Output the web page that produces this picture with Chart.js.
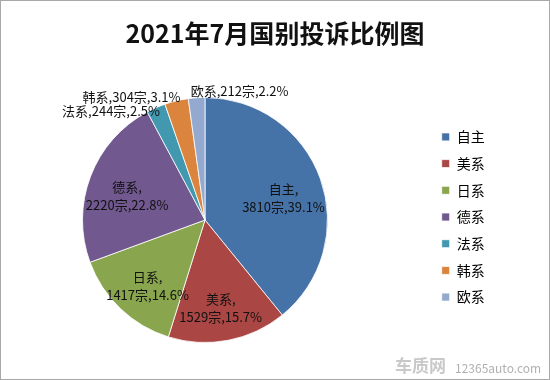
<!DOCTYPE html>
<html>
<head>
<meta charset="utf-8">
<script src="https://cdn.jsdelivr.net/npm/chart.js@4.4.1/dist/chart.umd.min.js"></script>
<style>
  html, body { margin: 0; padding: 0; background: #fff; }
  canvas { display: block; }
</style>
</head>
<body>
<canvas id="myCanvas" width="550" height="380" style="width:550px;height:380px"></canvas>
<script>
// 2021年7月 complaints by origin of the brand
var labels = ['自主', '美系', '日系', '德系', '法系', '韩系', '欧系'];
var counts = [3810, 1529, 1417, 2220, 244, 304, 212];
var colors = ['#4572A7', '#AA4643', '#89A54E', '#71588F', '#4198AF', '#DB843D', '#93A9CF'];

var FONT = '"Noto Sans CJK SC", "Noto Sans", sans-serif';
var total = counts.reduce(function(a, b){ return a + b; }, 0);

function pct(v){
  return (v / total * 100).toFixed(1) + '%';
}

// white page with the thin grey frame round it
var framePlugin = {
  id: 'frame',
  beforeDraw: function(chart){
    var ctx = chart.ctx;
    ctx.save();
    ctx.fillStyle = '#fff';
    ctx.fillRect(0, 0, chart.width, chart.height);
    ctx.strokeStyle = '#a8a8a8';
    ctx.lineWidth = 1;
    ctx.strokeRect(0.5, 0.5, chart.width - 1, chart.height - 1);
    ctx.restore();
  },
  afterDraw: function(chart){
    // watermark in the corner
    var ctx = chart.ctx;
    ctx.save();
    ctx.textBaseline = 'middle';
    ctx.textAlign = 'left';
    ctx.fillStyle = '#c9c9c9';
    ctx.font = 'bold 17px ' + FONT;
    ctx.fillText('车质网', 395, 366);
    ctx.fillStyle = '#b0b0b0';
    ctx.font = '12px ' + FONT;
    ctx.fillText('12365auto.com', 455, 368);
    ctx.restore();
  }
};

// pie sits left of centre, legend near the right edge
var placePlugin = {
  id: 'place',
  afterLayout: function(chart){
    var area = chart.chartArea;
    area.right = area.left + 410;
    area.width = area.right - area.left;
    var lg = chart.legend;
    var dx = 429 - lg.left;
    lg.left += dx; lg.right += dx;
    lg.top -= 3; lg.bottom -= 3;
  }
};

// "name,count宗,pct" labels, inside for the big slices and outside for the small ones
var sliceLabels = {
  id: 'sliceLabels',
  afterDatasetsDraw: function(chart){
    var ctx = chart.ctx;
    var meta = chart.getDatasetMeta(0);
    var outside = [];
    ctx.save();
    ctx.font = '13px ' + FONT;
    ctx.fillStyle = '#111';
    ctx.textBaseline = 'middle';
    meta.data.forEach(function(arc, i){
      var p = arc.getProps(['x', 'y', 'startAngle', 'endAngle', 'outerRadius'], true);
      var mid = (p.startAngle + p.endAngle) / 2;
      var share = counts[i] / total;
      if (share > 0.05) {
        var r = p.outerRadius * 0.68;
        var cx = p.x + Math.cos(mid) * r;
        var cy = p.y + Math.sin(mid) * r + 6;
        ctx.textAlign = 'center';
        ctx.fillText(labels[i] + ',', cx, cy - 9);
        ctx.fillText(counts[i] + '宗,' + pct(counts[i]), cx, cy + 9);
      } else {
        var ax = p.x + Math.cos(mid) * p.outerRadius;
        var ay = p.y + Math.sin(mid) * p.outerRadius;
        var fromTop = Math.abs(mid + Math.PI / 2) * 180 / Math.PI;
        var txt = labels[i] + ',' + counts[i] + '宗,' + pct(counts[i]);
        if (fromTop > 2*Math.PI*180/Math.PI - 8) fromTop = 360 - fromTop;
        if (fromTop < 8) {
          ctx.textAlign = 'left';
          ctx.fillText(txt, ax - 6, ay - 7);
        } else {
          outside.push({txt: txt, x: ax + 4, y: ay});
        }
      }
    });
    // push apart side labels that would overlap
    outside.sort(function(a, b){ return a.y - b.y; });
    for (var k = 1; k < outside.length; k++) {
      var gap = outside[k].y - outside[k-1].y;
      if (gap < 14) {
        var d = (14 - gap) / 2;
        outside[k-1].y -= d;
        outside[k].y += d;
      }
    }
    ctx.textAlign = 'right';
    outside.forEach(function(o){ ctx.fillText(o.txt, o.x, o.y); });
    ctx.restore();
  }
};

var ctx = document.getElementById('myCanvas');
var myPie = new Chart(ctx, {
  type: 'pie',
  data: {
    labels: labels,
    datasets: [{
      data: counts,
      backgroundColor: colors,
      borderColor: 'rgba(255,255,255,0.8)',
      borderWidth: 1,
      hoverOffset: 0
    }]
  },
  options: {
    responsive: false,
    animation: false,
    layout: { padding: { top: 0, bottom: 37, left: 0, right: 0 } },
    plugins: {
      title: {
        display: true,
        text: '2021年7月国别投诉比例图',
        color: '#111',
        font: { family: FONT, size: 25, weight: 'bold' },
        padding: { top: 18, bottom: 49 }
      },
      legend: {
        position: 'right',
        fullSize: false,
        labels: {
          boxWidth: 8,
          boxHeight: 8,
          padding: 12.7,
          color: '#000',
          font: { family: FONT, size: 14 }
        }
      },
      tooltip: { enabled: false }
    }
  },
  plugins: [framePlugin, placePlugin, sliceLabels]
});
</script>
</body>
</html>
